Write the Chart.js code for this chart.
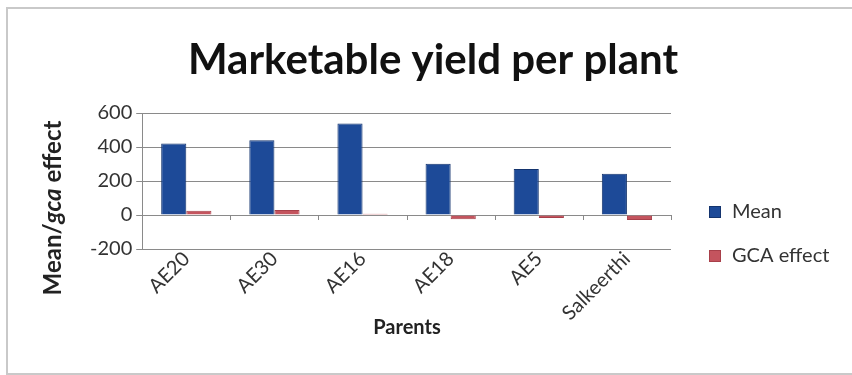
<!DOCTYPE html>
<html>
<head>
<meta charset="utf-8">
<script src="https://cdn.jsdelivr.net/npm/chart.js@4.4.0/dist/chart.umd.min.js"></script>
<style>
  html, body { margin: 0; padding: 0; background: #fff; }
  .frame {
    position: absolute; left: 6px; top: 7px; width: 860px; height: 364px;
    border: 2px solid #c9c9c9; border-right: none;
  }
  .chartBox { position: absolute; left: 0; top: 0; width: 852px; height: 375px; }
</style>
</head>
<body>
<div class="frame"></div>
<div class="chartBox"><canvas id="myChart" width="852" height="375"></canvas></div>
<script>
const parents = ['AE20', 'AE30', 'AE16', 'AE18', 'AE5', 'Salkeerthi'];
const meanValues = [420, 440, 538, 302, 270, 242];
const gcaValues = [25, 30, 8, -25, -18, -30];
const yTicks = [-200, 0, 200, 400, 600];

const FONT = 'Lato, "Open Sans", sans-serif';

// title, axis titles (with "gca" in italics), legend and zero-line tick marks
const extrasPlugin = {
  id: 'extras',
  afterDraw(chart) {
    const ctx = chart.ctx;

    ctx.save();
    ctx.font = 'bold 42px ' + FONT;
    ctx.fillStyle = '#111';
    ctx.textAlign = 'center';
    ctx.textBaseline = 'middle';
    ctx.fillText('Marketable yield per plant', 433, 60);
    ctx.font = 'bold 20px ' + FONT;
    ctx.fillStyle = '#222';
    ctx.fillText('Parents', 407, 328);
    ctx.restore();

    const parts = [['Mean/', 'bold'], ['gca', 'italic bold'], [' effect', 'bold']];
    ctx.save();
    let total = 0;
    parts.forEach(p => { ctx.font = p[1] + ' 24px ' + FONT; total += ctx.measureText(p[0]).width; });
    ctx.translate(53, 208);
    ctx.rotate(-Math.PI / 2);
    let x = -total / 2;
    ctx.fillStyle = '#222';
    ctx.textBaseline = 'middle';
    parts.forEach(p => {
      ctx.font = p[1] + ' 24px ' + FONT;
      ctx.fillText(p[0], x, 0);
      x += ctx.measureText(p[0]).width;
    });
    ctx.restore();

    // legend
    ctx.save();
    ctx.font = '20px ' + FONT;
    ctx.textBaseline = 'middle';
    chart.data.datasets.forEach((ds, i) => {
      const cy = 212 + i * 44;
      ctx.fillStyle = ds.backgroundColor;
      ctx.fillRect(709, cy - 6, 12, 12);
      ctx.strokeStyle = ds.borderColor;
      ctx.lineWidth = 1;
      ctx.strokeRect(709.5, cy - 5.5, 11, 11);
      ctx.fillStyle = '#333';
      ctx.fillText(ds.label, 732, cy);
    });
    ctx.restore();

    // small category tick marks on the zero line
    const xs = chart.scales.x, ys = chart.scales.y;
    const y0 = ys.getPixelForValue(0);
    const step = xs.getPixelForValue(1) - xs.getPixelForValue(0);
    ctx.save();
    ctx.strokeStyle = '#888';
    ctx.lineWidth = 1;
    for (let i = 0; i < parents.length; i++) {
      const px = Math.round(xs.getPixelForValue(i) + step / 2) + 0.5;
      ctx.beginPath();
      ctx.moveTo(px, y0);
      ctx.lineTo(px, y0 + 5);
      ctx.stroke();
    }
    ctx.restore();
  }
};

new Chart(document.getElementById('myChart'), {
  type: 'bar',
  data: {
    labels: parents,
    datasets: [
      {
        label: 'Mean',
        data: meanValues,
        backgroundColor: '#1d4a98',
        borderColor: '#14346e',
        borderWidth: 1,
        categoryPercentage: 0.57,
        barPercentage: 1.0
      },
      {
        label: 'GCA effect',
        data: gcaValues,
        backgroundColor: '#c4545e',
        borderColor: '#a8404a',
        borderWidth: 1,
        categoryPercentage: 0.57,
        barPercentage: 1.0
      }
    ]
  },
  options: {
    responsive: false,
    animation: false,
    layout: { padding: { left: 86, right: 181, top: 113, bottom: 4 } },
    plugins: {
      title: { display: false },
      legend: { display: false },
      tooltip: { enabled: false }
    },
    scales: {
      x: {
        afterFit: (axis) => { axis.height = 122; },
        grid: { display: false },
        border: { display: false },
        ticks: {
          color: '#333',
          font: { family: FONT, size: 20 },
          maxRotation: 45,
          minRotation: 45,
          padding: -10
        }
      },
      y: {
        min: -200,
        max: 600,
        afterBuildTicks: (axis) => { axis.ticks = yTicks.map(v => ({ value: v })); },
        grid: { color: '#8a8a8a', tickLength: 6 },
        border: { color: '#8a8a8a' },
        ticks: {
          color: '#333',
          font: { family: FONT, size: 20 },
          padding: 4
        }
      }
    }
  },
  plugins: [extrasPlugin]
});
</script>
</body>
</html>
